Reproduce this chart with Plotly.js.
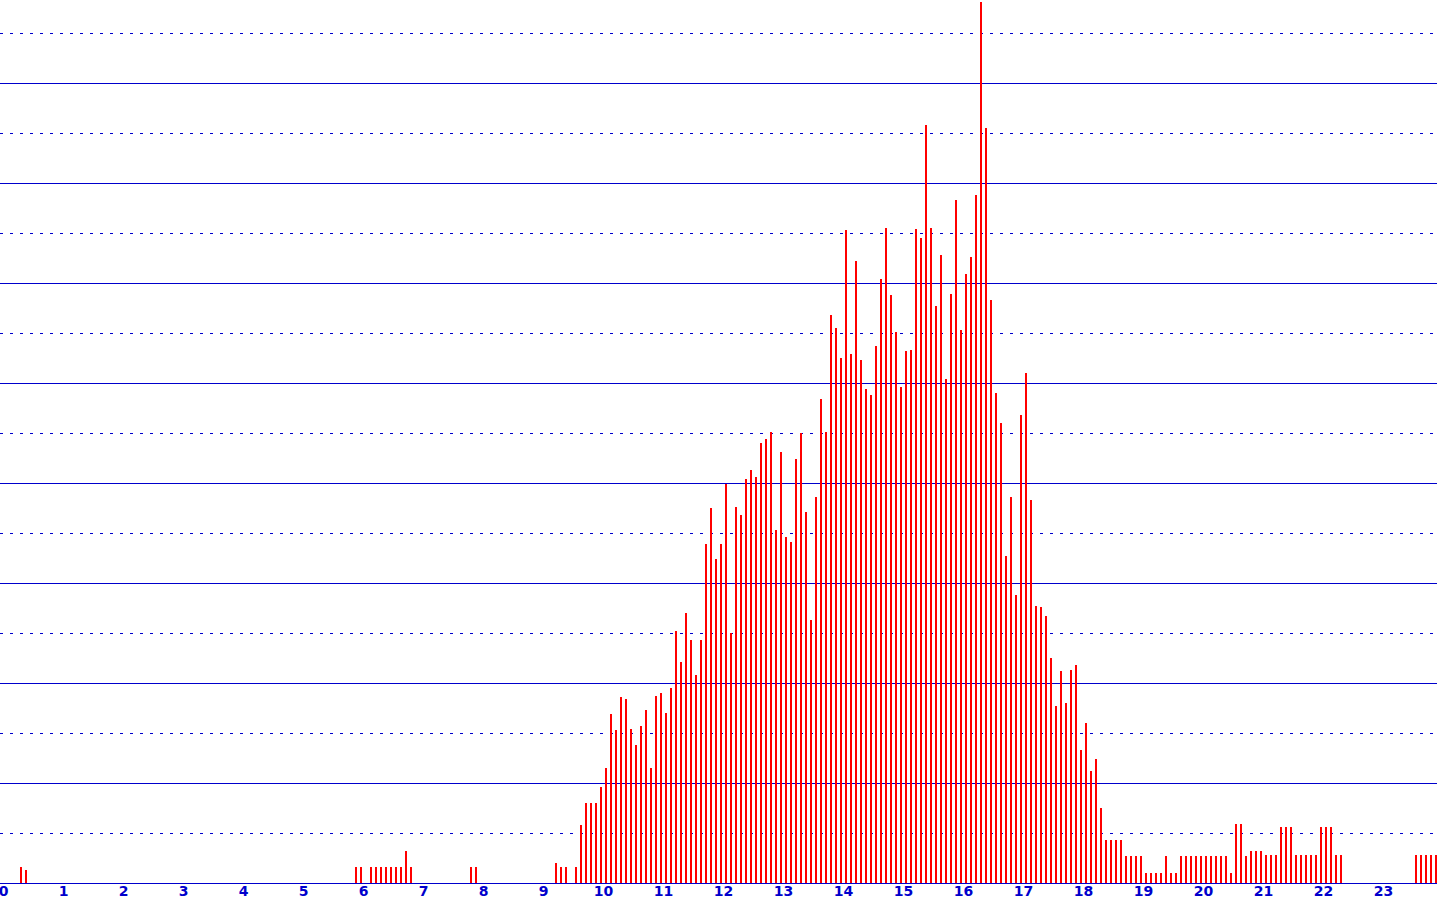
<!DOCTYPE html>
<html>
<head>
<meta charset="utf-8">
<script src="https://cdn.plot.ly/plotly-3.0.1.min.js"></script>
<style>
html, body { margin: 0; padding: 0; background: #ffffff; }
#chart { width: 1437px; height: 903px; }
</style>
</head>
<body>
<div id="chart"></div>
<script>
// Hour tick labels along the x axis
const hourLabels = ["0","1","2","3","4","5","6","7","8","9","10","11","12","13","14","15","16","17","18","19","20","21","22","23"];

// Bin size (minutes) of each bar
const binMinutes = 5;

// Bar heights per 5-minute bin, one row per hour (12 bins each)
const hour00 = [0,0,0,1.6,1.3,0,0,0,0,0,0,0];
const hour01 = [0,0,0,0,0,0,0,0,0,0,0,0];
const hour02 = [0,0,0,0,0,0,0,0,0,0,0,0];
const hour03 = [0,0,0,0,0,0,0,0,0,0,0,0];
const hour04 = [0,0,0,0,0,0,0,0,0,0,0,0];
const hour05 = [0,0,0,0,0,0,0,0,0,0,1.6,1.6];
const hour06 = [0,1.6,1.6,1.6,1.6,1.6,1.6,1.6,3.2,1.6,0,0];
const hour07 = [0,0,0,0,0,0,0,0,0,1.6,1.6,0];
const hour08 = [0,0,0,0,0,0,0,0,0,0,0,0];
const hour09 = [0,0,2.0,1.6,1.6,0,1.6,5.8,8.0,8.0,8.0,9.6];
const hour10 = [11.5,16.9,15.3,18.6,18.4,15.4,13.8,15.7,17.3,11.5,18.7,19.0];
const hour11 = [17.0,19.5,25.2,22.1,27.0,24.3,20.8,24.3,33.9,37.5,32.4,33.9];
const hour12 = [39.9,25.0,37.6,36.8,40.4,41.3,40.6,44.0,44.4,45.1,35.3,43.1];
const hour13 = [34.6,34.1,42.4,45.0,37.1,26.3,38.6,48.4,45.1,56.8,55.5,52.5];
const hour14 = [65.3,52.9,62.2,52.3,49.4,48.8,53.7,60.4,65.5,58.8,55.1,49.6];
const hour15 = [53.2,53.3,65.4,64.5,75.8,65.5,57.7,62.8,50.4,58.9,68.3,55.3];
const hour16 = [60.9,62.6,68.8,88.1,75.5,58.3,49.0,46.0,32.7,38.6,28.8,46.8];
const hour17 = [51.0,38.3,27.7,27.6,26.7,22.5,17.7,21.2,18.0,21.3,21.8,13.3];
const hour18 = [16.0,11.2,12.4,7.5,4.3,4.3,4.3,4.3,2.7,2.7,2.7,2.7];
const hour19 = [1.0,1.0,1.0,1.0,2.7,1.0,1.0,2.7,2.7,2.7,2.7,2.7];
const hour20 = [2.7,2.7,2.7,2.7,2.7,1.0,5.9,5.9,2.7,3.2,3.2,3.2];
const hour21 = [2.8,2.8,2.8,5.6,5.6,5.6,2.8,2.8,2.8,2.8,2.8,5.6];
const hour22 = [5.6,5.6,2.8,2.8,0,0,0,0,0,0,0,0];
const hour23 = [0,0,0,0,0,0,2.8,2.8,2.8,2.8,2.8,0];

const values = [].concat(hour00,hour01,hour02,hour03,hour04,hour05,hour06,hour07,
  hour08,hour09,hour10,hour11,hour12,hour13,hour14,hour15,hour16,hour17,hour18,
  hour19,hour20,hour21,hour22,hour23);

// bin centres, in hours
const x = values.map((v, i) => (i + 0.5) * binMinutes / 60);

const blue = '#0000cc';
const W = 1437, H = 903;
const pxPerHour = 60;
const x0px = 3.5;

const trace = {
  type: 'bar',
  x: x,
  y: values,
  width: 2 / pxPerHour,
  marker: { color: '#ff0000', line: { width: 0 } },
  hoverinfo: 'x+y'
};

const layout = {
  width: W,
  height: H,
  margin: { l: 0, r: 0, t: 0, b: 20, pad: 0 },
  paper_bgcolor: '#ffffff',
  plot_bgcolor: '#ffffff',
  showlegend: false,
  bargap: 0,
  xaxis: {
    range: [-x0px / pxPerHour, (W - x0px) / pxPerHour],
    tickmode: 'array',
    tickvals: hourLabels.map((s, i) => i),
    ticktext: hourLabels,
    ticks: '',
    showgrid: false,
    zeroline: false,
    showline: true,
    linecolor: blue,
    linewidth: 1,
    tickfont: { family: 'DejaVu Sans', size: 14, color: blue, weight: 'bold' },
    ticklabelstandoff: -5,
    ticklabeloverflow: 'allow',
    fixedrange: true
  },
  yaxis: {
    range: [0, 88.3],
    dtick: 10,
    tick0: 0,
    showticklabels: false,
    ticks: '',
    showgrid: true,
    gridcolor: blue,
    gridwidth: 1,
    zeroline: false,
    showline: false,
    minor: { dtick: 5, tick0: 0, showgrid: true, gridcolor: blue, gridwidth: 1, griddash: '3px,7px' },
    fixedrange: true
  }
};

Plotly.newPlot('chart', [trace], layout, { displayModeBar: false, staticPlot: true });
</script>
</body>
</html>
